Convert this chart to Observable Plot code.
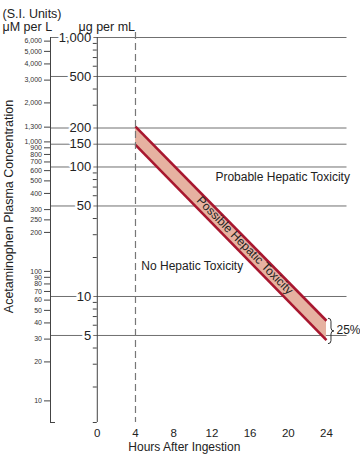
<!DOCTYPE html>
<html><head><meta charset="utf-8">
<script src="https://cdn.jsdelivr.net/npm/d3@7"></script>
<script src="https://cdn.jsdelivr.net/npm/@observablehq/plot@0.6"></script>
<style>body{margin:0;background:#fff}</style>
</head><body><div id="chart"></div>
<script>
// ---- data ----
const hourTicks = [0, 4, 8, 12, 16, 20, 24];
const concLevels = [1000, 500, 200, 150, 100, 50, 10, 5];            // μg/mL labelled lines
const concMinor = [900, 800, 700, 600, 400, 300, 90, 80, 70, 60, 40, 30, 20, 9, 8, 7, 6, 4, 3, 2];
const siTicks = [6000, 5000, 4000, 3000, 2000, 1300, 1000, 900, 800, 700, 600, 500, 400, 300, 250, 200,
                 100, 90, 80, 70, 60, 50, 40, 30, 20, 10];             // μM per L
const upperLine = [{hours: 4, conc: 205}, {hours: 24, conc: 6.5}];
const lowerLine = [{hours: 4, conc: 148}, {hours: 24, conc: 4.6}];
const zoneLabels = ["Probable Hepatic Toxicity", "Possible Hepatic Toxicity", "No Hepatic Toxicity"];
const titleLines = ["(S.I. Units)", "μM per L", "μg per mL"];
const xTitle = "Hours After Ingestion";
const yTitle = "Acetaminophen Plasma Concentration";
const bandNote = "25%";
const UM_PER_UG = 6.4;

// ---- helpers ----
const fmt = d3.format(",");
const yBottom = 1.064, yTop = 1093;
const xMin = -4.9, xMax = 26.15;
const band = upperLine.map((u, i) => ({hours: u.hours, hi: u.conc, lo: lowerLine[i].conc}));
const siRows = siTicks.map(v => ({label: fmt(v), ug: v / UM_PER_UG}));
const ink = "#222", axisInk = "#444", gridInk = "#707070";

function brace(index, scales) {
  const {x, y} = scales;
  const x0 = x(upperLine[1].hours) + 2;
  const yT = y(upperLine[1].conc) - 2;
  const yB = y(lowerLine[1].conc) + 4;
  const yM = (yT + yB) / 2;
  const w = 3;
  const p = document.createElementNS("http://www.w3.org/2000/svg", "path");
  p.setAttribute("d",
    `M${x0},${yT} Q${x0 + w},${yT} ${x0 + w},${yT + w} L${x0 + w},${yM - w} Q${x0 + w},${yM} ${x0 + 2 * w},${yM} ` +
    `Q${x0 + w},${yM} ${x0 + w},${yM + w} L${x0 + w},${yB - w} Q${x0 + w},${yB} ${x0},${yB}`);
  p.setAttribute("fill", "none");
  p.setAttribute("stroke", "#333");
  p.setAttribute("stroke-width", "1");
  return p;
}

const plot = Plot.plot({
  width: 360, height: 456,
  marginLeft: 50, marginRight: 13.5, marginTop: 32, marginBottom: 34,
  style: {fontFamily: "'Liberation Sans', Arial, Helvetica, sans-serif", background: "#fff", color: ink, overflow: "visible"},
  x: {domain: [xMin, xMax]},
  y: {type: "log", domain: [yBottom, yTop], axis: null},
  marks: [
    // labelled horizontal levels
    Plot.ruleY(concLevels, {stroke: gridInk, strokeWidth: 1}),
    // left (μM) axis
    Plot.ruleX([xMin], {y1: yBottom, y2: 1000, stroke: axisInk}),
    Plot.ruleY([yBottom], {x1: xMin, x2: xMin, insetRight: -5, stroke: axisInk}),
    Plot.ruleY(siRows, {y: "ug", x1: xMin, x2: xMin, insetLeft: -6, stroke: axisInk}),
    Plot.text(siRows, {x: xMin, y: "ug", text: "label", textAnchor: "end", dx: -8.5, fontSize: 7, fill: "#333"}),
    // middle (μg/mL) axis
    Plot.ruleX([0], {y1: yBottom, y2: 1000, stroke: axisInk}),
    Plot.ruleY(concMinor, {x1: 0, x2: 0, insetLeft: -4, stroke: axisInk}),
    Plot.ruleY([yBottom], {x1: 0, insetLeft: -4, stroke: axisInk}),
    // band
    Plot.areaY(band, {x: "hours", y1: "lo", y2: "hi", fill: "#e6b2a1"}),
    Plot.line(upperLine, {x: "hours", y: "conc", stroke: "#a8172f", strokeWidth: 2.6, strokeLinecap: "butt"}),
    Plot.line(lowerLine, {x: "hours", y: "conc", stroke: "#a8172f", strokeWidth: 2.6, strokeLinecap: "butt"}),
    // 4-hour dashed line
    Plot.ruleX([hourTicks[1]], {stroke: "#777", strokeWidth: 1.2, strokeDasharray: "7,4"}),
    // level labels with halo
    Plot.text(concLevels, {x: 0, y: d => d, text: d => fmt(d), textAnchor: "end", dx: -6,
      fontSize: 13, fill: ink, stroke: "#fff", strokeWidth: 5}),
    // x axis
    Plot.axisX(hourTicks, {anchor: "bottom", tickSize: 0, tickPadding: 6.5, fontSize: 11.5, label: null, color: ink}),
    Plot.text([xTitle], {x: 3.25, frameAnchor: "bottom", textAnchor: "start", dy: 28, fontSize: 12, fill: ink, text: d => d}),
    // y title
    Plot.text([yTitle], {frameAnchor: "left", y: 49.5, dx: -42, rotate: -90, textAnchor: "middle", fontSize: 12.5, fill: ink, text: d => d}),
    // header
    Plot.text([titleLines[0]], {frameAnchor: "top-left", dx: -48, dy: -23.5, textAnchor: "start", fontSize: 12.5, fill: ink, text: d => d}),
    Plot.text([titleLines[1]], {frameAnchor: "top-left", dx: -48, dy: -10.8, textAnchor: "start", fontSize: 12.5, fill: ink, text: d => d}),
    Plot.text([titleLines[2]], {frameAnchor: "top-left", dx: 28, dy: -10.8, textAnchor: "start", fontSize: 12.5, fill: ink, text: d => d}),
    // zone labels
    Plot.text([zoneLabels[0]], {x: 12.37, y: 83.4, textAnchor: "start", fontSize: 12, fill: ink, text: d => d}),
    Plot.text([zoneLabels[1]], {x: 15.45, y: 24.8, rotate: 45.6, fontSize: 12, fill: ink, text: d => d}),
    Plot.text([zoneLabels[2]], {x: 4.61, y: 17.3, textAnchor: "start", fontSize: 12, fill: ink, text: d => d}),
    // 25% note
    brace,
    Plot.text([bandNote], {x: upperLine[1].hours, y: 5.5, dx: 10, textAnchor: "start", fontSize: 12, fill: ink, text: d => d})
  ]
});
document.getElementById("chart").appendChild(plot);
</script>
</body></html>
